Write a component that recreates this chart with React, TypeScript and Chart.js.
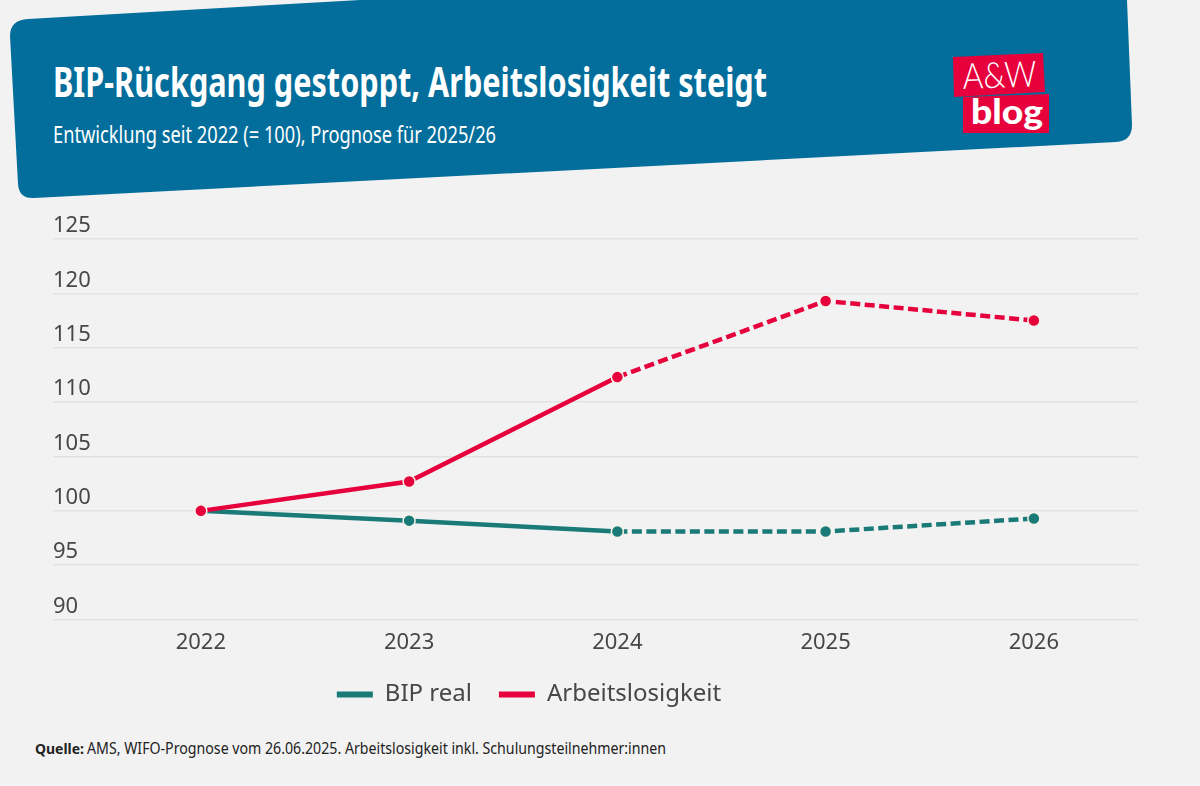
import React, { useEffect, useRef } from "react";
import { Chart, registerables } from "chart.js";

Chart.register(...registerables);

const years = [2022, 2023, 2024, 2025, 2026];
const bipReal = [100, 99.1, 98.1, 98.1, 99.3];
const arbeitslosigkeit = [100, 102.7, 112.3, 119.3, 117.5];
const yTicks = [90, 95, 100, 105, 110, 115, 120, 125];

const TEAL = "#1a7a78";
const RED = "#e6003c";
const BLUE = "#036e9b";
const BG = "#f2f2f2";
const TEXT = "#474747";
const FONT = "'Noto Sans', sans-serif";

// first forecast segment starts after 2024
const forecastFrom = 2;

const toPoints = (values: number[]) => values.map((v, i) => ({ x: years[i], y: v }));

// legend sits left of the plot centre in the original
const moveLegend = {
  id: "moveLegend",
  afterLayout(chart: any) {
    const l = chart.legend;
    const w = l.right - l.left;
    l.left = 529 - w / 2;
    l.right = 529 + w / 2;
    l.top = 686 - l.height / 2;
    l.bottom = l.top + l.height;
  },
};

const LineChart = () => {
  const ref = useRef<HTMLCanvasElement>(null);

  useEffect(() => {
    if (!ref.current) return;
    const makeSet = (label: string, values: number[], color: string, order: number) => ({
      label,
      data: toPoints(values),
      borderColor: color,
      backgroundColor: color,
      borderWidth: 4.5,
      pointRadius: 6,
      pointBorderWidth: 1.5,
      pointBorderColor: "#f6f4ea",
      pointBackgroundColor: color,
      order,
      segment: {
        borderDash: (ctx: any) => (ctx.p0DataIndex >= forecastFrom ? [10, 4.5] : undefined),
      },
    });

    const chart = new Chart(ref.current, {
      type: "line",
      data: {
        datasets: [
          makeSet("BIP real", bipReal, TEAL, 1),
          makeSet("Arbeitslosigkeit", arbeitslosigkeit, RED, 0),
        ],
      },
      plugins: [moveLegend],
      options: {
        responsive: false,
        animation: false,
        layout: { padding: { left: 53, right: 62, top: 239, bottom: 67 } },
        scales: {
          x: {
            type: "linear",
            min: 2021.29,
            max: 2026.5,
            afterBuildTicks: (s: any) => {
              s.ticks = years.map((y) => ({ value: y }));
            },
            grid: { display: false },
            border: { display: false },
            ticks: {
              color: TEXT,
              padding: 2,
              maxRotation: 0,
              font: { family: FONT, size: 22 },
              callback: (v: any) => String(v),
            },
          },
          y: {
            min: 90,
            max: 125,
            afterBuildTicks: (s: any) => {
              s.ticks = yTicks.map((y) => ({ value: y }));
            },
            grid: { color: "#e2e2e2", lineWidth: 1.5, drawTicks: false },
            border: { display: false },
            ticks: {
              mirror: true,
              padding: 0,
              labelOffset: -13,
              color: TEXT,
              font: { family: FONT, size: 22 },
            },
          },
        },
        plugins: {
          tooltip: { enabled: false },
          legend: {
            position: "bottom",
            labels: {
              boxWidth: 36,
              boxHeight: 6,
              padding: 27,
              color: TEXT,
              font: { family: FONT, size: 24 },
              sort: (a: any, b: any) => a.datasetIndex - b.datasetIndex,
              generateLabels: (c: any) =>
                Chart.defaults.plugins.legend.labels.generateLabels(c).map((l: any) => ({ ...l, lineWidth: 0 })),
            },
          },
        },
      },
    } as any);

    return () => chart.destroy();
  }, []);

  return <canvas ref={ref} width={1200} height={786} style={{ position: "absolute", left: 0, top: 0 }} />;
};

const Header = () => (
  <svg width={1200} height={786} style={{ position: "absolute", left: 0, top: 0 }}>
    <path
      d="M28 19 L360 0 L1127 0 L1132 125 Q1132 141 1116 142 L34 198 Q19 199 18 184 L10 36 Q10 20 28 19 Z"
      fill={BLUE}
    />
    <text x={53} y={97} fill="#fff" fontFamily={FONT} fontWeight={700} fontSize={42} textLength={714} lengthAdjust="spacingAndGlyphs">
      BIP-Rückgang gestoppt, Arbeitslosigkeit steigt
    </text>
    <text x={53} y={143} fill="#fff" fontFamily={FONT} fontSize={24} textLength={443} lengthAdjust="spacingAndGlyphs">
      Entwicklung seit 2022 (= 100), Prognose für 2025/26
    </text>
    <polygon points="953,57 1043,53 1045,92 954,97" fill={RED} />
    <polygon points="963,97 1049,94 1049,133 963,133" fill={RED} />
    <text x={963} y={89} fill="#fff" fontFamily="Lato, sans-serif" fontWeight={300} fontSize={36} textLength={74} lengthAdjust="spacingAndGlyphs" transform="rotate(-2 963 89)">
      A&amp;W
    </text>
    <text x={971} y={124} fill="#fff" fontFamily="Lato, sans-serif" fontWeight={900} fontSize={34} textLength={72} lengthAdjust="spacingAndGlyphs">
      blog
    </text>
    <text x={35} y={754} fill="#222" fontFamily={FONT} fontWeight={700} fontSize={15} textLength={49} lengthAdjust="spacingAndGlyphs">
      Quelle:
    </text>
    <text x={87} y={754} fill="#222" fontFamily={FONT} fontSize={16} textLength={579} lengthAdjust="spacingAndGlyphs">
      AMS, WIFO-Prognose vom 26.06.2025. Arbeitslosigkeit inkl. Schulungsteilnehmer:innen
    </text>
  </svg>
);

export default function App() {
  useEffect(() => {
    document.body.style.margin = "0";
    document.body.style.background = BG;
  }, []);

  return (
    <div style={{ position: "relative", width: 1200, height: 786, background: BG, overflow: "hidden" }}>
      <Header />
      <LineChart />
    </div>
  );
}
